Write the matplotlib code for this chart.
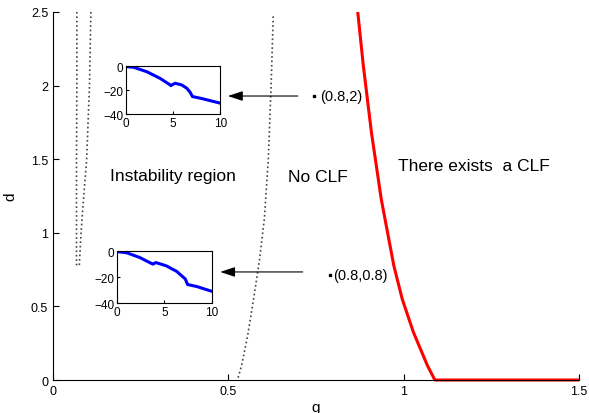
import matplotlib.pyplot as plt

plt.rcParams['font.family'] = ['Liberation Sans', 'DejaVu Sans']

# dotted boundary curves (g, d)
dot1_g = [0.068, 0.068, 0.067, 0.067, 0.067]
dot1_d = [2.5, 2.0, 1.5, 1.0, 0.77]
dot2_g = [0.108, 0.104, 0.096, 0.086, 0.080, 0.075]
dot2_d = [2.5, 2.0, 1.5, 1.2, 1.0, 0.78]
dot3_g = [0.628, 0.622, 0.614, 0.603, 0.588, 0.572, 0.555, 0.538, 0.526]
dot3_d = [2.47, 2.0, 1.5, 1.1, 0.8, 0.55, 0.3, 0.1, 0.0]

# CLF boundary (red)
red_g = [0.869, 0.885, 0.908, 0.936, 0.972, 0.996, 1.028, 1.068, 1.089, 1.5]
red_d = [2.5, 2.135, 1.683, 1.23, 0.776, 0.549, 0.323, 0.097, 0.0, 0.0]

# inset trajectories
top_t = [0, 0.8, 2.2, 3.6, 4.68, 4.75, 5.2, 5.9, 6.45, 6.8, 7.05, 7.9, 10]
top_v = [-0.5, -1, -4.7, -10.2, -15.7, -16.3, -14.3, -15.7, -18.5, -21.8, -25.4, -26.8, -30.9]
bot_t = [0, 1, 2.4, 3.64, 3.8, 4.1, 5.2, 6.3, 7.2, 7.45, 8.4, 10]
bot_v = [-0.5, -1.3, -5, -9.6, -10.1, -8.9, -11.4, -15.7, -21.5, -25.8, -27.3, -31]

fig = plt.figure(figsize=(5.89, 4.14), dpi=100)
ax = fig.add_axes([0.090, 0.0797, 0.893, 0.889])

ax.plot(dot1_g, dot1_d, ':', color='#444444', lw=1.2)
ax.plot(dot2_g, dot2_d, ':', color='#444444', lw=1.2)
ax.plot(dot3_g, dot3_d, ':', color='#444444', lw=1.2)
ax.plot(red_g, red_d, color='red', lw=2.2, solid_capstyle='butt',
        solid_joinstyle='round', clip_on=False)

ax.set_xlim(0, 1.5)
ax.set_ylim(0, 2.5)
ax.set_xticks([0, 0.5, 1, 1.5])
ax.set_xticklabels(['0', '0.5', '1', '1.5'])
ax.set_yticks([0, 0.5, 1, 1.5, 2, 2.5])
ax.set_yticklabels(['0', '0.5', '1', '1.5', '2', '2.5'])
ax.tick_params(direction='in', length=4, labelsize=9)
ax.spines['top'].set_visible(False)
ax.spines['right'].set_visible(False)
ax.set_xlabel('g', fontsize=11, labelpad=2)
ax.set_ylabel('d', fontsize=11, labelpad=10)

ax.text(0.163, 1.386, 'Instability region', fontsize=12.5, va='center')
ax.text(0.671, 1.38, 'No CLF', fontsize=12.5, va='center')
ax.text(0.983, 1.454, 'There exists  a CLF', fontsize=12.5, va='center')

ax.plot([0.743, 0.789], [1.93, 0.713], 's', color='black', ms=1.8)
ax.text(0.763, 1.93, '(0.8,2)', fontsize=10.5, va='center')
ax.text(0.80, 0.713, '(0.8,0.8)', fontsize=10.5, va='center')

arrow = dict(arrowstyle='-|>,head_length=0.9,head_width=0.3', color='black', lw=0.8)
ax.annotate('', xy=(0.491, 1.929), xytext=(0.706, 1.929), arrowprops=arrow)
ax.annotate('', xy=(0.469, 0.734), xytext=(0.72, 0.734), arrowprops=arrow)

for rect, t, v in [([0.214, 0.722, 0.160, 0.116], top_t, top_v),
                   ([0.1986, 0.2657, 0.161, 0.1256], bot_t, bot_v)]:
    ins = fig.add_axes(rect)
    ins.plot(t, v, color='blue', lw=2.2)
    ins.set_xlim(0, 10)
    ins.set_ylim(-40, 0)
    ins.set_xticks([0, 5, 10])
    ins.set_yticks([0, -20, -40])
    ins.tick_params(direction='in', length=2, labelsize=8.5, pad=2)

fig.savefig('out.png', dpi=100)
